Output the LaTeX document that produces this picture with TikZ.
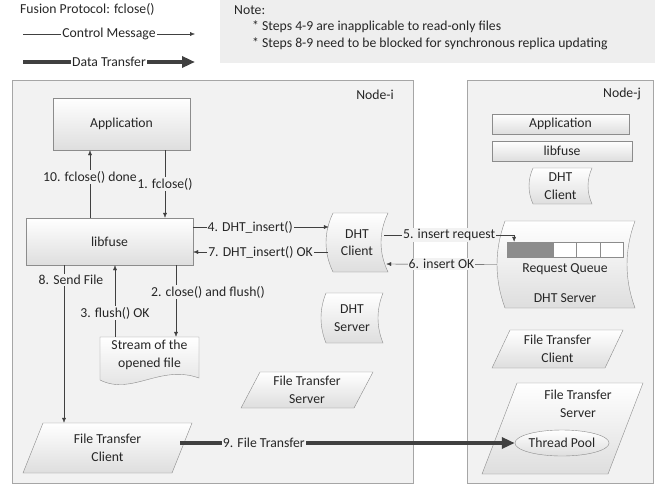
\documentclass[tikz,border=0pt]{standalone}
\usepackage{fontspec}
\setmainfont{Carlito}
\usetikzlibrary{arrows.meta,shapes.geometric}

\definecolor{edge}{HTML}{8C8C8C}
\definecolor{ink}{HTML}{404040}
\definecolor{panel}{HTML}{F2F2F2}
\definecolor{notebg}{HTML}{EEEEEE}

\tikzset{
  shade box/.style={draw=edge, top color=white, bottom color=black!13},
  txt/.style={inner sep=0pt, align=center, text=black!85},
  lbl/.style={inner sep=1pt, fill=panel, text=black!85},
  msg/.style={draw=ink, -{Latex[length=5pt,width=4pt]}},
  data/.style={draw=ink, line width=3.5pt, -{Triangle[length=13pt,width=11pt]}},
  cell/.style={draw=edge, minimum width=23.2pt, minimum height=15pt, inner sep=0pt},
}

% parallelogram: x1 y1 x2 y2 slant
\newcommand{\slantbox}[5]{%
  \path[shade box] (#1+#5,#2) -- (#3,#2) -- (#3-#5,#4) -- (#1,#4) -- cycle;}
% stored data: x1 y1 x2 y2 bulge
\newcommand{\storedbox}[5]{%
  \path[shade box] (#1+#5,#2) -- (#3,#2)
    .. controls (#3-1.333*#5,{#2+(#4-#2)/3}) and (#3-1.333*#5,{#4-(#4-#2)/3}) .. (#3,#4)
    -- (#1+#5,#4)
    .. controls (#1-0.333*#5,{#4-(#4-#2)/3}) and (#1-0.333*#5,{#2+(#4-#2)/3}) .. cycle;}

\begin{document}
\begin{tikzpicture}[x=1pt, y=-1pt, font=\fontsize{13.7}{17.5}\selectfont]
  \useasboundingbox (0,0) rectangle (660,485);

  % legend and note
  \node[txt, anchor=west] (title) at (20,9) {Fusion Protocol: fclose()};
  \coordinate (ctlA) at (23,34);
  \coordinate (ctlB) at (195,34);
  \coordinate (datA) at (23,62);
  \coordinate (datB) at (195,62);
  \draw[msg] (ctlA) -- node[lbl, fill=white] {Control Message} (ctlB);
  \draw[data] (datA) -- node[lbl, fill=white] {Data Transfer} (datB);

  \fill[notebg] (220,0) rectangle (655,63);
  \node[txt, anchor=west] (note) at (234,10) {Note:};
  \node[txt, anchor=west] (note1) at (252,27) {* Steps 4-9 are inapplicable to read-only files};
  \node[txt, anchor=west] (note2) at (252,44) {* Steps 8-9 need to be blocked for synchronous replica updating};

  % the two hosts
  \draw[black!35, fill=panel] (12,80) rectangle (413,483);
  \draw[black!35, fill=panel] (467,80) rectangle (653,483);
  \node[txt] (nodei) at (375,95) {Node-i};
  \node[txt] (nodej) at (622,94) {Node-j};

  % Node-i
  \node[shade box, txt, minimum width=137pt, minimum height=52pt] (app) at (121.5,124) {Application};
  \node[shade box, txt, minimum width=167pt, minimum height=47pt] (fuse) at (109.5,241.5) {libfuse};

  \storedbox{326}{213}{388}{272}{7}
  \node[txt, minimum width=62pt, minimum height=59pt] (dhtci) at (357,242.5) {DHT\\Client};
  \storedbox{321}{293}{383}{343}{5}
  \node[txt, minimum width=62pt, minimum height=50pt] (dhtsi) at (352,318) {DHT\\Server};

  \path[shade box] (100,337) -- (199,337) -- (199,378)
    .. controls (160,364) and (132,396) .. (100,380) -- cycle;
  \node[txt, minimum width=99pt, minimum height=36pt] (stream) at (149.5,355) {Stream of the\\opened file};

  \slantbox{23}{423}{192}{473}{20}
  \node[txt, minimum width=169pt, minimum height=50pt] (ftci) at (107.5,448) {File Transfer\\Client};
  \slantbox{241}{372}{373}{408}{19}
  \node[txt, minimum width=132pt, minimum height=36pt] (ftsi) at (307,390) {File Transfer\\Server};

  % Node-j
  \node[shade box, txt, minimum width=137pt, minimum height=20pt] (appj) at (560.5,124) {Application};
  \node[shade box, txt, minimum width=140pt, minimum height=20pt] (fusej) at (562,151) {libfuse};
  \storedbox{529}{168}{592}{204}{4}
  \node[txt, minimum width=63pt, minimum height=36pt] (dhtcj) at (560.5,186) {DHT\\Client};

  \storedbox{497}{221}{635}{308}{8}
  \node[txt, minimum width=138pt, minimum height=87pt] (dhtsj) at (566,264.5) {};
  \foreach \i in {1,...,5}
    \node[cell, fill=white] (q\i) at ({507+23.2*(\i-0.5)},249.5) {};
  \fill[black!45] (q1.north west) rectangle (q2.south east);
  \draw[edge] (q1.north west) rectangle (q2.south east) (q1.north east) -- (q1.south east);
  \node[txt] (queue) at (565,269) {Request Queue};
  \node[txt] (dhtsjlbl) at (565,298) {DHT Server};

  \slantbox{492}{330}{623}{368}{18}
  \node[txt, minimum width=131pt, minimum height=38pt] (ftcj) at (557.5,349) {File Transfer\\Client};
  \slantbox{482}{383}{643}{474}{35}
  \node[txt] (ftsj) at (578,404) {File Transfer\\Server};
  \node[ellipse, shade box, txt, minimum width=85pt, minimum height=26pt] (pool) at (562,443) {Thread Pool};

  % control messages
  \draw[msg] ([xshift=43.5]app.south) -- node[lbl] {1. fclose()} ([xshift=55.5]fuse.north);
  \draw[msg] ([xshift=66.5]fuse.south) -- node[lbl, pos=0.375, xshift=32] {2. close() and flush()} ([xshift=26.5]stream.north);
  \draw[msg] ([xshift=-34.5]stream.north) -- node[lbl, pos=0.33] {3. flush() OK} ([xshift=5.5]fuse.south);
  \draw[msg] ([yshift=14.5]fuse.east) -- node[lbl, pos=0.42] {4. DHT\_insert()} ([xshift=3,yshift=15.5]dhtci.west);
  \draw[msg] ([xshift=-4,yshift=7.5]dhtci.east) -| node[lbl, pos=0.25] {5. insert request} ([xshift=-4.5]q1.north);
  \draw[msg] (dhtsj.west) -- node[lbl] {6. insert OK} ([xshift=-2,yshift=-21.5]dhtci.east);
  \draw[msg] ([xshift=2,yshift=-9.5]dhtci.west) -- node[lbl] {7. DHT\_insert() OK} ([yshift=-10.5]fuse.east);
  \draw[msg] ([xshift=-45.5]fuse.south) -- node[lbl, pos=0.095, xshift=7] {8. Send File} ([xshift=-43.5]ftci.north);
  \draw[msg] ([xshift=-19.5]fuse.north) -- node[lbl, pos=0.6] {10. fclose() done} ([xshift=-31.5]app.south);

  % data transfer
  \draw[data] ([xshift=-12,yshift=5]ftci.east) -- node[lbl, pos=0.25] {9. File Transfer} (pool.west);
\end{tikzpicture}
\end{document}
